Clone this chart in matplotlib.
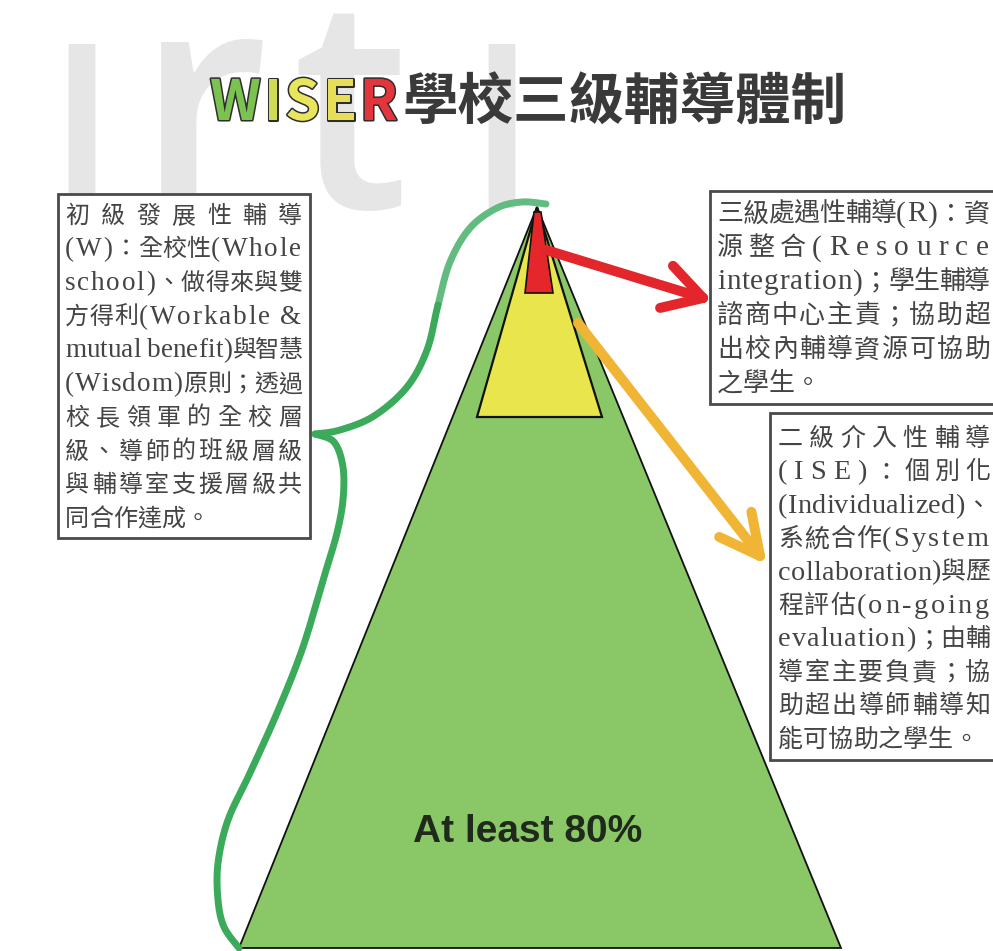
import numpy as np
import matplotlib
matplotlib.use('Agg')
import matplotlib.pyplot as plt
from matplotlib.patches import Polygon, Rectangle
import matplotlib.patheffects as pe

# canvas in pixel units
W, H = 993, 951
fig = plt.figure(figsize=(W / 100, H / 100), dpi=100)
ax = fig.add_axes([0, 0, 1, 1])
ax.set_xlim(0, W)
ax.set_ylim(H, 0)
ax.axis('off')
rend = fig.canvas.get_renderer()

SERIF = ['Liberation Serif', 'Noto Sans CJK TC']
CJK = ['Noto Sans CJK TC', 'DejaVu Sans']
TXT = '#444444'

# ---- content ----
title_letters = ['W', 'I', 'S', 'E', 'R']
title_colors = ['#7BC250', '#CDDB57', '#E9E55C', '#E7DD57', '#E2363C']
title_rest = '學校三級輔導體制'
center_label = 'At least 80%'

left_lines = ['初級發展性輔導', '(W)：全校性(Whole', 'school)、做得來與雙',
              '方得利(Workable &', 'mutual benefit)與智慧', '(Wisdom)原則；透過',
              '校長領軍的全校層', '級、導師的班級層級', '與輔導室支援層級共', '同合作達成。']
top_right_lines = ['三級處遇性輔導(R)：資', '源整合(Resource', 'integration)；學生輔導',
                   '諮商中心主責；協助超', '出校內輔導資源可協助', '之學生。']
low_right_lines = ['二級介入性輔導', '(ISE)：個別化', '(Individualized)、',
                   '系統合作(System', 'collaboration)與歷', '程評估(on-going',
                   'evaluation)；由輔', '導室主要負責；協', '助超出導師輔導知', '能可協助之學生。']

# ---- shapes (pixel coords) ----
pyr_green = [(537, 207), (841, 948), (239, 948)]
pyr_yellow = [(537, 207), (602, 417), (477, 417)]
pyr_red = [(534, 212), (541, 212), (553, 293), (525, 293)]
brace_top = [(546, 204), (522, 202), (497, 208), (470, 228), (450, 262), (438, 305),
             (427, 350), (407, 387), (374, 416), (340, 430), (315, 434)]
brace_low = [(315, 434), (334, 442), (343, 467), (343, 500), (337, 533), (327, 567),
             (303, 647), (277, 713), (250, 773), (228, 820), (218, 863), (218, 900),
             (224, 927), (239, 948)]
red_arrow = [(546, 250), (703, 298)]
orange_arrow = [(578, 323), (760, 556)]

# watermark letters: char, left x, font size, weight
watermark = [('I', 46, 165), ('r', 136, 221), ('t', 292, 212), ('I', 466, 165)]


def smooth(pts, n=16):
    p = np.array(pts, float)
    p = np.vstack([p[0], p, p[-1]])
    out = []
    t = np.linspace(0, 1, n, endpoint=False)[:, None]
    for i in range(1, len(p) - 2):
        p0, p1, p2, p3 = p[i - 1], p[i], p[i + 1], p[i + 2]
        out.append(0.5 * (2 * p1 + (-p0 + p2) * t + (2 * p0 - 5 * p1 + 4 * p2 - p3) * t ** 2
                          + (-p0 + 3 * p1 - 3 * p2 + p3) * t ** 3))
    out.append(p[-2][None])
    return np.vstack(out)


def arrow(seg, color, hl=45, ang=28):
    (x0, y0), (x1, y1) = seg
    kw = dict(color=color, lw=7.2, solid_capstyle='round', solid_joinstyle='round', zorder=4)
    ax.plot([x0, x1], [y0, y1], **kw)
    a = np.arctan2(y0 - y1, x0 - x1)
    for s in (-1, 1):
        b = a + s * np.radians(ang)
        ax.plot([x1, x1 + hl * np.cos(b)], [y1, y1 + hl * np.sin(b)], **kw)


def justify(lines, x0, x1, yc0, dy, size, color=TXT, latin_scale=1.13):
    em = size / 72 * 100
    for k, line in enumerate(lines):
        yb = yc0 + k * dy + 0.36 * em
        items = []
        for c in line:
            if c == ' ':
                items.append((None, 0.25 * em * latin_scale, False))
                continue
            wide = ord(c) > 0x2E80
            fs = size if wide else size * latin_scale
            t = ax.text(0, yb, c, fontsize=fs, family=SERIF, color=color,
                        ha='center' if wide else 'left', va='baseline', zorder=6)
            w = em if wide else t.get_window_extent(rend).width + 0.06 * em
            items.append((t, w, wide))
        n = len(items)
        natural = sum(w for _, w, _ in items)
        last = k == len(lines) - 1
        gap = 0 if last or n < 2 else (x1 - x0 - natural) / (n - 1)
        x = x0
        for t, w, wide in items:
            if t is not None:
                t.set_x(x + w / 2 if wide else x)
            x += w + gap


# ---- watermark ----
for ch, x, fs in watermark:
    ax.text(x, 208, ch, fontsize=fs, family='Open Sans', weight='semibold', color='#E6E6E6',
            ha='left', va='baseline', zorder=0)

# ---- title ----
x = 210
ty = 104
tfs = 40
for ch, col in zip(title_letters, title_colors):
    t = ax.text(x, ty, ch, fontsize=tfs, family=CJK, weight='bold', color=col,
                ha='left', va='center', zorder=7,
                path_effects=[pe.Stroke(linewidth=2.2, foreground='#2e2e2e'), pe.Normal()])
    x += t.get_window_extent(rend).width + 3
ax.text(x + 2, ty, title_rest, fontsize=tfs, family=CJK, weight='bold', color='#3a3a3a',
        ha='left', va='center', zorder=7)

# ---- pyramid ----
ax.add_patch(Polygon(pyr_green, closed=True, fc='#8AC766', ec='#111111', lw=1.3, zorder=2))
ax.add_patch(Polygon(pyr_yellow, closed=True, fc='#E9E54C', ec='#111111', lw=1.6, zorder=2))
ax.add_patch(Polygon(pyr_red, closed=True, fc='#E5262B', ec='#111111', lw=1.2, zorder=2))
ax.text(528, 832, center_label, fontsize=28, family='Liberation Sans', weight='bold',
        color='#1f2a1c', ha='center', va='center', zorder=3)

# ---- brace ----
top = smooth(brace_top)
low = smooth(brace_low)
cut = len(top) * 5 // 10
ax.plot(top[:cut + 1, 0], top[:cut + 1, 1], color='#62BC80', lw=5, solid_capstyle='round', zorder=3)
ax.plot(top[cut:, 0], top[cut:, 1], color='#3BAA5A', lw=5, solid_capstyle='round', zorder=3)
ax.plot(low[:, 0], low[:, 1], color='#3BAA5A', lw=5, solid_capstyle='round', zorder=3)

# ---- arrows ----
arrow(red_arrow, '#E3262B', hl=44, ang=30)
arrow(orange_arrow, '#F0B535', hl=45, ang=27)

# ---- text boxes ----
for (bx, by, bw, bh) in [(58, 194, 252, 344), (710, 191, 295, 213), (770, 413, 235, 347)]:
    ax.add_patch(Rectangle((bx, by), bw, bh, fc='white', ec='#4a4a4a', lw=2.0, zorder=5))

justify(left_lines, 65, 302, 214, 33.7, 17.3)
justify(top_right_lines, 717, 990, 212, 34.0, 18.7)
justify(low_right_lines, 778, 990, 437, 33.4, 18.0)

fig.savefig('out.png', dpi=100, facecolor='white')
